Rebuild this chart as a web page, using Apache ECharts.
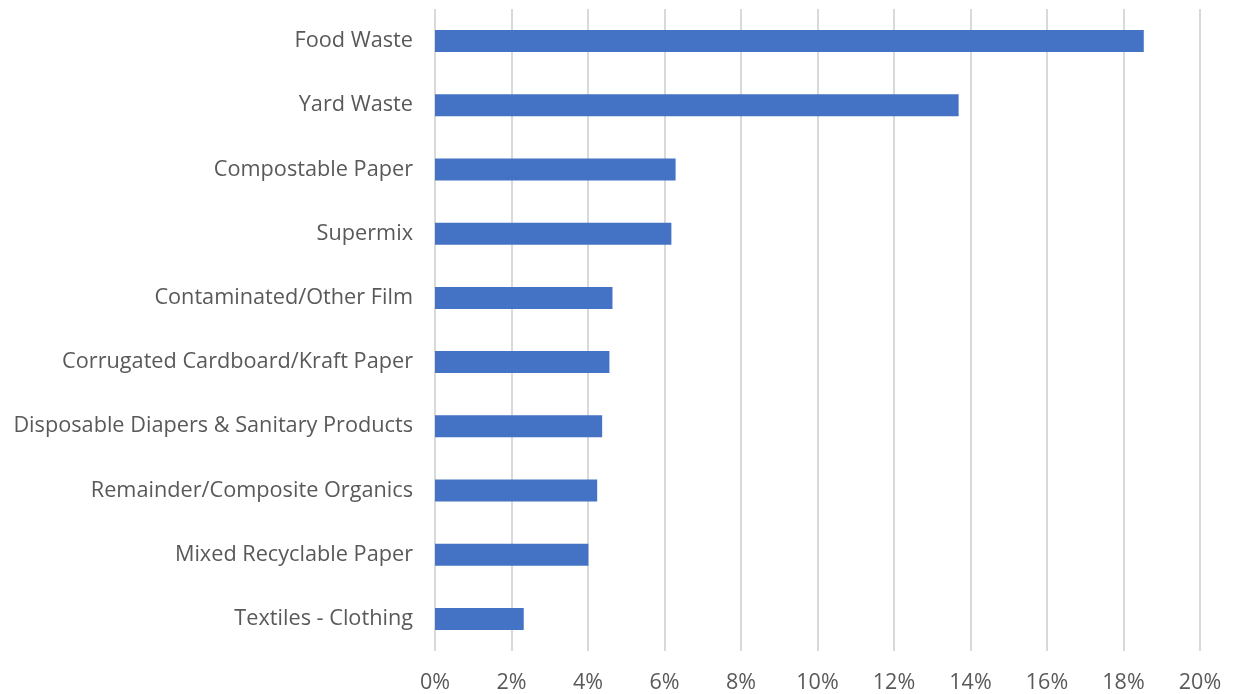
<!DOCTYPE html>
<html>
<head>
<meta charset="utf-8">
<script src="https://cdn.jsdelivr.net/npm/echarts@6/dist/echarts.min.js"></script>
<style>
  html, body { margin: 0; padding: 0; background: #fff; }
  #chart { width: 1234px; height: 694px; }
</style>
</head>
<body>
<div id="chart"></div>
<script>
// categories, top to bottom
let categories = [
  'Food Waste',
  'Yard Waste',
  'Compostable Paper',
  'Supermix',
  'Contaminated/Other Film',
  'Corrugated Cardboard/Kraft Paper',
  'Disposable Diapers & Sanitary Products',
  'Remainder/Composite Organics',
  'Mixed Recyclable Paper',
  'Textiles - Clothing'
];
// percent of total
let shares = [18.53, 13.69, 6.29, 6.18, 4.64, 4.56, 4.37, 4.24, 4.01, 2.32];
let xTicks = [0, 2, 4, 6, 8, 10, 12, 14, 16, 18, 20];

let chart = echarts.init(document.getElementById('chart'));

let option = {
  animation: false,
  grid: { left: 435, right: 34, top: 9, bottom: 42 },
  xAxis: {
    type: 'value',
    min: xTicks[0],
    max: xTicks[xTicks.length - 1],
    interval: 2,
    axisLine: { show: false },
    axisTick: { show: false },
    splitLine: { lineStyle: { color: '#d9d9d9', width: 2 } },
    axisLabel: {
      margin: 21,
      color: '#595959',
      fontSize: 21.5,
      fontFamily: 'Open Sans',
      formatter: v => v + '%'
    }
  },
  yAxis: {
    type: 'category',
    inverse: true,
    data: categories,
    axisLine: { show: false },
    axisTick: { show: false },
    axisLabel: {
      margin: 22,
      padding: [4, 0, 0, 0],
      color: '#595959',
      fontSize: 21.7,
      fontFamily: 'Open Sans'
    }
  },
  series: [
    {
      type: 'bar',
      data: shares,
      barWidth: 22,
      itemStyle: { color: '#4472c4' }
    }
  ]
};

chart.setOption(option);
</script>
</body>
</html>
